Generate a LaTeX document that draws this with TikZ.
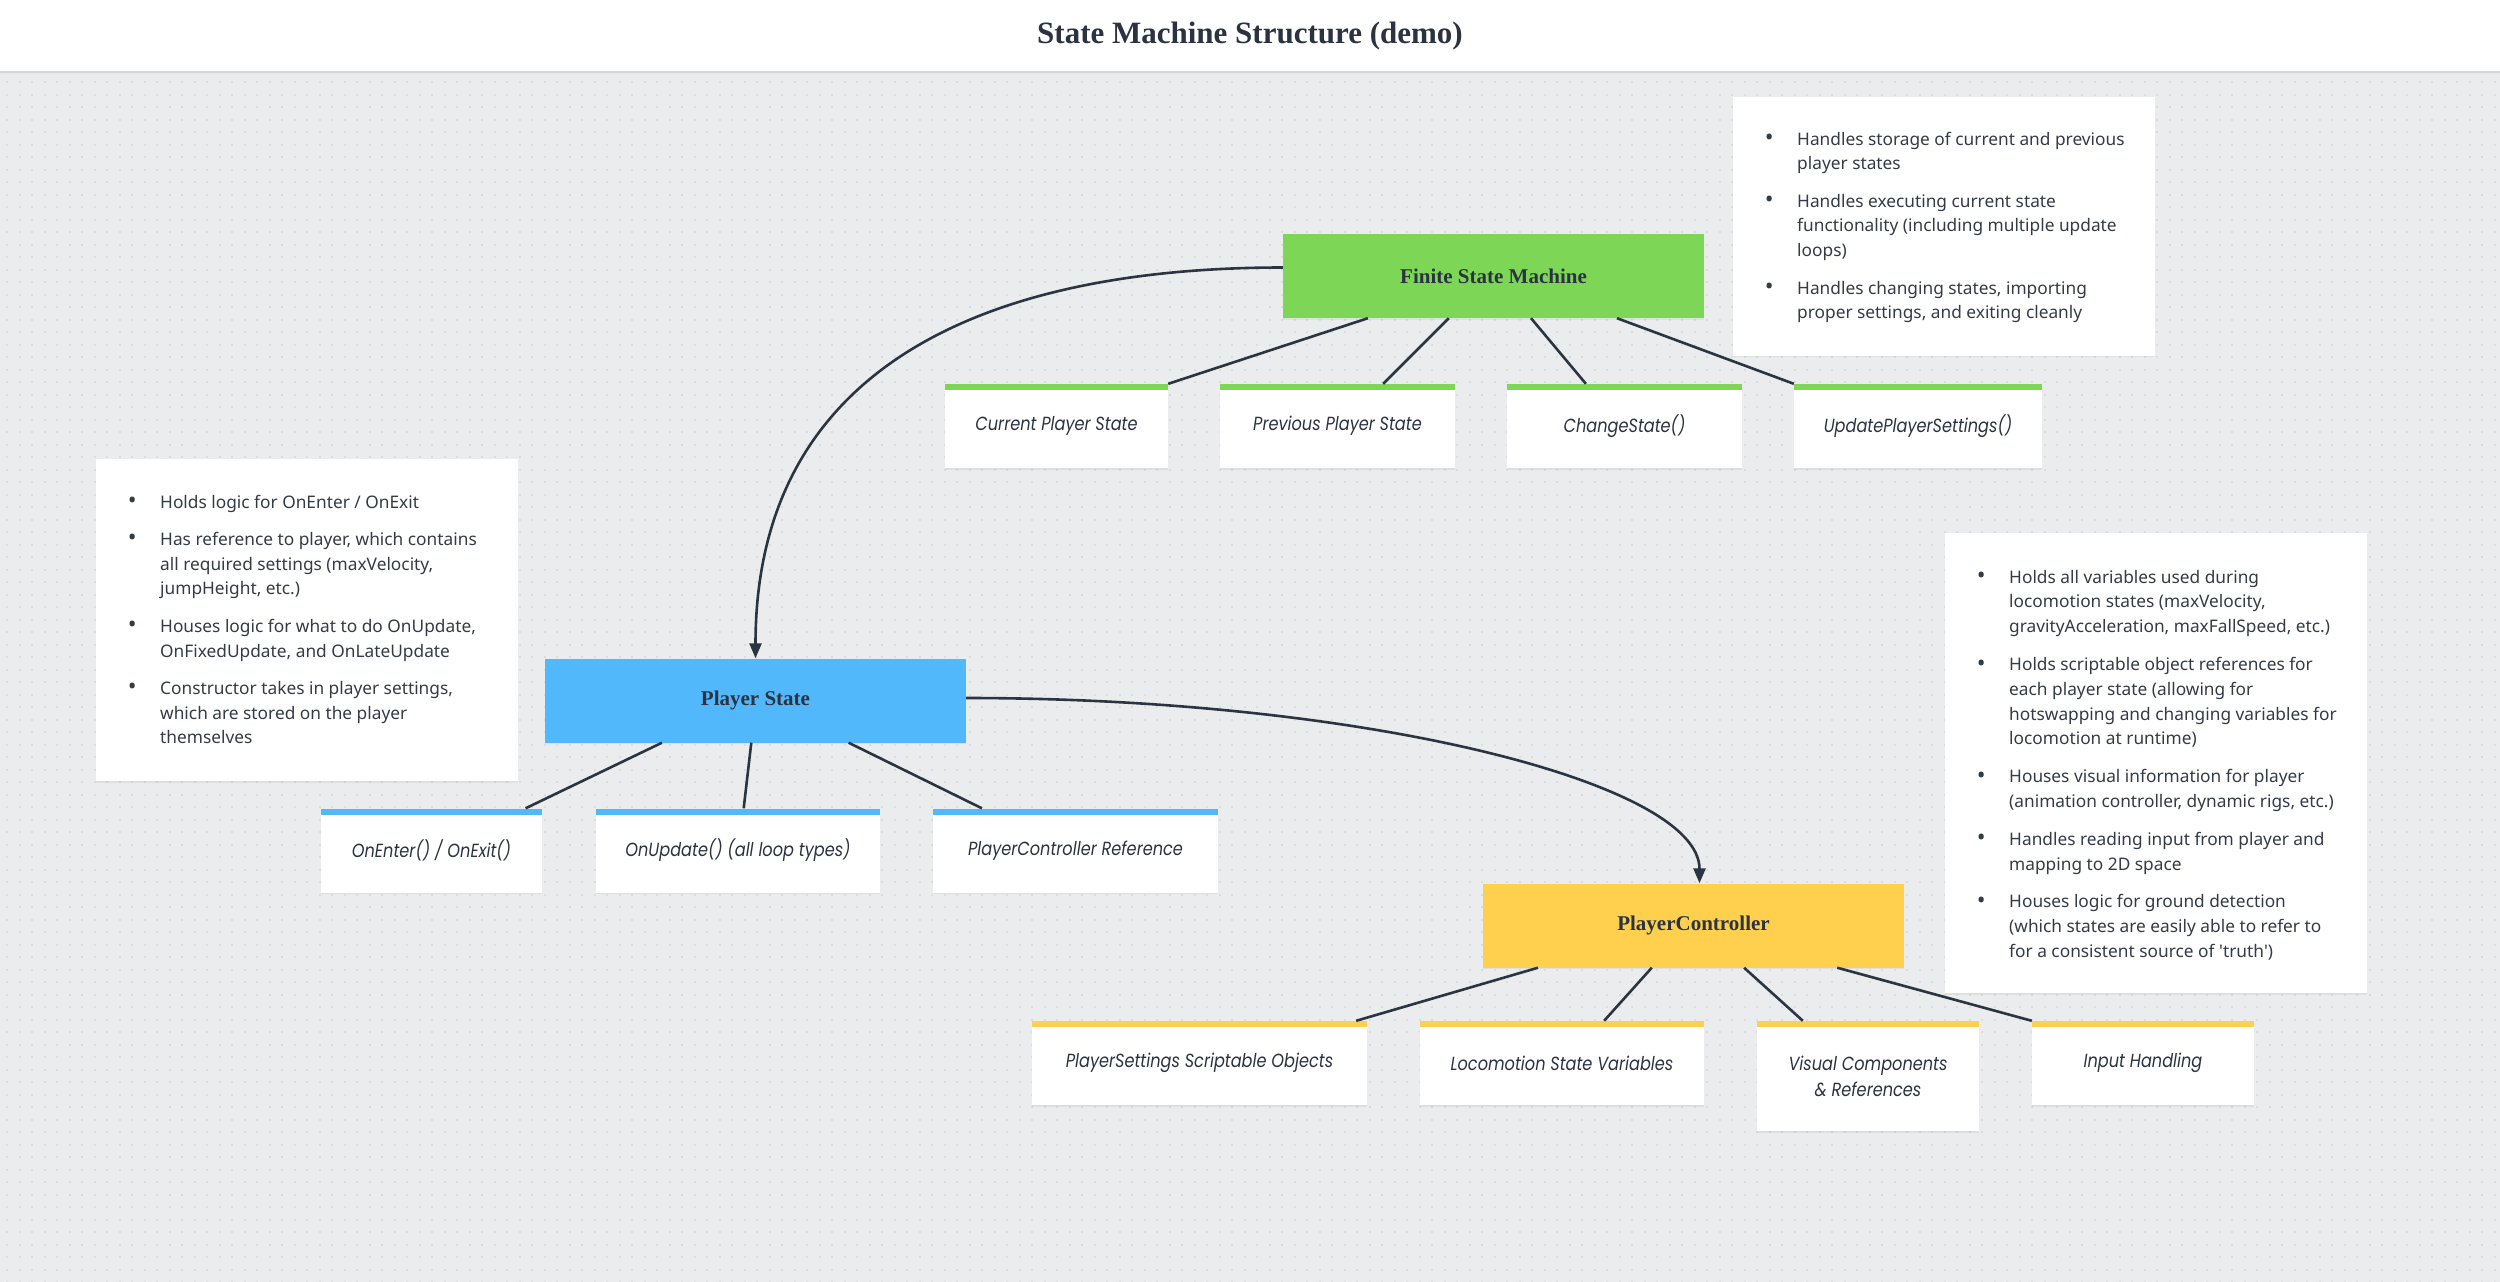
\documentclass[tikz,border=0pt]{standalone}
\usepackage{fontspec}
\setmainfont{Noto Sans}
\newfontfamily\headfont{Liberation Serif}
\newfontfamily\childfont[FakeStretch=0.85]{Poppins}
\usetikzlibrary{arrows.meta,shadows,calc}
\definecolor{bg}{HTML}{EBECEE}
\definecolor{dotc}{HTML}{DADCE0}
\definecolor{ink}{HTML}{2B3342}
\definecolor{linec}{HTML}{2B3441}
\definecolor{fsmc}{HTML}{7ED657}
\definecolor{psc}{HTML}{51B8FC}
\definecolor{pcc}{HTML}{FFD04D}
\definecolor{notec}{HTML}{343B47}
\definecolor{barline}{HTML}{D3D5D9}
\newcommand{\bl}{\makebox[28pt][l]{\makebox[0pt][c]{\raisebox{-0.6pt}{\scalebox{1.35}{\textbullet}}}}}
\tikzset{
  mainbox/.style={fill=#1, minimum width=421pt, minimum height=84pt, inner sep=0pt,
    font=\headfont\bfseries\fontsize{21}{25}\selectfont, text=ink,
    drop shadow={shadow xshift=0pt, shadow yshift=-1.5pt, opacity=0.10}},
  childbox/.style={fill=white, minimum height=84pt, inner sep=0pt, align=center,
    font=\childfont\itshape\fontsize{19}{26}\selectfont, text=ink,
    drop shadow={shadow xshift=0pt, shadow yshift=-1.5pt, opacity=0.12},
    path picture={\fill[#1] (path picture bounding box.north west) rectangle ([yshift=-6pt]path picture bounding box.north east);}},
  notebox/.style={fill=white, inner sep=0pt,
    drop shadow={shadow xshift=0pt, shadow yshift=-1.5pt, opacity=0.10}},
  notetext/.style={anchor=base west, inner sep=0pt, text=notec,
    font=\fontsize{17.3}{24.8}\selectfont},
  conn/.style={draw=linec, line width=2.6pt},
  arr/.style={conn, -{Triangle[length=15pt,width=12pt]}}
}
\begin{document}
\begin{tikzpicture}[x=1pt,y=-1pt]
\useasboundingbox (0,0) rectangle (2500,1282);
\fill[bg] (0,0) rectangle (2500,1282);
\foreach \k in {0,...,96}
  \draw[dotc, line width=2pt, dash pattern=on 2pt off 10.5pt] (6,82.3+12.5*\k) -- (2500,82.3+12.5*\k);
% title bar
\fill[white] (0,0) rectangle (2500,71);
\draw[barline, line width=2pt] (0,72) -- (2500,72);
\draw[barline!50, line width=2pt] (0,74) -- (2500,74);
\node[font=\headfont\bfseries\fontsize{31}{35}\selectfont, text=ink] (title) at (1250,36) {State Machine Structure (demo)};

% notes
\node[notebox, minimum width=422pt, minimum height=259pt] (n1) at (1943.5,226) {};
\node[notetext] (n1t) at (1769,145) {\begin{tabular}[t]{@{}l@{}l@{}}
\bl & Handles storage of current and previous\\
    & player states\\[12.5pt]
\bl & Handles executing current state\\
    & functionality (including multiple update\\
    & loops)\\[12.5pt]
\bl & Handles changing states, importing\\
    & proper settings, and exiting cleanly
\end{tabular}};

\node[notebox, minimum width=422pt, minimum height=322pt] (n2) at (307,620) {};
\node[notetext] (n2t) at (132,508) {\begin{tabular}[t]{@{}l@{}l@{}}
\bl & Holds logic for OnEnter / OnExit\\[12.5pt]
\bl & Has reference to player, which contains\\
    & all required settings (maxVelocity,\\
    & jumpHeight, etc.)\\[12.5pt]
\bl & Houses logic for what to do OnUpdate,\\
    & OnFixedUpdate, and OnLateUpdate\\[12.5pt]
\bl & Constructor takes in player settings,\\
    & which are stored on the player\\
    & themselves
\end{tabular}};

\node[notebox, minimum width=422pt, minimum height=460pt] (n3) at (2156,763) {};
\node[notetext] (n3t) at (1981,583) {\begin{tabular}[t]{@{}l@{}l@{}}
\bl & Holds all variables used during\\
    & locomotion states (maxVelocity,\\
    & gravityAcceleration, maxFallSpeed, etc.)\\[13pt]
\bl & Holds scriptable object references for\\
    & each player state (allowing for\\
    & hotswapping and changing variables for\\
    & locomotion at runtime)\\[13pt]
\bl & Houses visual information for player\\
    & (animation controller, dynamic rigs, etc.)\\[13pt]
\bl & Handles reading input from player and\\
    & mapping to 2D space\\[13pt]
\bl & Houses logic for ground detection\\
    & (which states are easily able to refer to\\
    & for a consistent source of \textquotesingle truth\textquotesingle)
\end{tabular}};

% main boxes
\node[mainbox=fsmc] (fsm) at (1493.5,276) {Finite State Machine};
\node[mainbox=psc] (ps) at (755.5,700.5) {Player State};
\node[mainbox=pcc] (pc) at (1693.5,925.5) {PlayerController};

% FSM children
\node[childbox=fsmc, minimum width=223pt] (cur) at (1056.5,426) {Current Player State};
\node[childbox=fsmc, minimum width=235pt] (prev) at (1337.5,426) {Previous Player State};
\node[childbox=fsmc, minimum width=235pt] (chg) at (1624.5,426) {ChangeState()};
\node[childbox=fsmc, minimum width=248pt] (upd) at (1918,426) {UpdatePlayerSettings()};

% PS children
\node[childbox=psc, minimum width=221pt] (onen) at (431.5,850.5) {OnEnter() / OnExit()};
\node[childbox=psc, minimum width=284pt] (onup) at (738,850.5) {OnUpdate() (all loop types)};
\node[childbox=psc, minimum width=285pt] (pcref) at (1075.5,850.5) {PlayerController Reference};

% PC children
\node[childbox=pcc, minimum width=335pt] (pso) at (1199.5,1063) {PlayerSettings Scriptable Objects};
\node[childbox=pcc, minimum width=284pt] (loco) at (1562,1063) {Locomotion State Variables};
\node[childbox=pcc, minimum width=222pt, minimum height=110pt] (vis) at (1868,1076) {Visual Components\\\& References};
\node[childbox=pcc, minimum width=222pt] (inp) at (2143,1063) {Input Handling};

% connectors FSM
\draw[conn] ($(fsm.south west)!0.202!(fsm.south east)$) -- (cur.north east);
\draw[conn] ($(fsm.south west)!0.394!(fsm.south east)$) -- ($(prev.north west)!0.694!(prev.north east)$);
\draw[conn] ($(fsm.south west)!0.589!(fsm.south east)$) -- ($(chg.north west)!0.336!(chg.north east)$);
\draw[conn] ($(fsm.south west)!0.793!(fsm.south east)$) -- (upd.north west);
% connectors PS
\draw[conn] ($(ps.south west)!0.278!(ps.south east)$) -- ($(onen.north west)!0.925!(onen.north east)$);
\draw[conn] ($(ps.south west)!0.49!(ps.south east)$) -- ($(onup.north west)!0.52!(onup.north east)$);
\draw[conn] ($(ps.south west)!0.721!(ps.south east)$) -- ($(pcref.north west)!0.172!(pcref.north east)$);
% connectors PC
\draw[conn] ($(pc.south west)!0.131!(pc.south east)$) -- ($(pso.north west)!0.967!(pso.north east)$);
\draw[conn] ($(pc.south west)!0.401!(pc.south east)$) -- ($(loco.north west)!0.648!(loco.north east)$);
\draw[conn] ($(pc.south west)!0.62!(pc.south east)$) -- ($(vis.north west)!0.207!(vis.north east)$);
\draw[conn] ($(pc.south west)!0.841!(pc.south east)$) -- (inp.north west);

% curved arrows
\draw[arr] ([yshift=8.5pt]fsm.west) .. controls +(-300,0) and +(0,-290) .. (ps.north);
\draw[arr] ([yshift=2.5pt]ps.east) .. controls +(400,0) and +(0,-100) .. ([xshift=6pt]pc.north);
\end{tikzpicture}
\end{document}
